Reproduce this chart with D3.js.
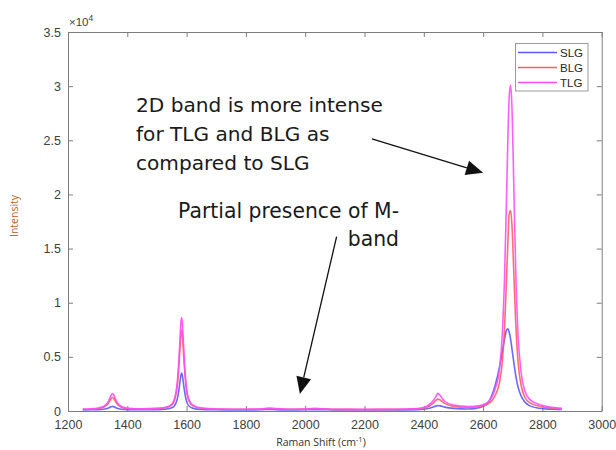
<!DOCTYPE html>
<html><head><meta charset="utf-8">
<script src="https://cdn.jsdelivr.net/npm/d3@7/dist/d3.min.js"></script>
<style>body{margin:0;background:#fff}</style>
</head><body><svg id="c" width="616" height="450"></svg>
<script>
// ---- data ----
const ramanShift = [1250,1280,1300,1320,1335,1345,1350,1355,1365,1380,1400,1450,1500,1530,1550,1560,1568,1574,1578,1581,1583,1585,1588,1592,1598,1606,1620,1650,1700,1800,1850,1880,1900,1950,2000,2030,2060,2100,2200,2300,2380,2410,2430,2440,2447,2455,2470,2500,2550,2590,2620,2640,2655,2665,2672,2678,2683,2688,2693,2698,2703,2710,2718,2728,2740,2760,2790,2820,2850,2865];
const slg = [100,113,124,160,250,390,430,390,250,160,125,115,130,176,290,520,1045,1930,2770,3330,3500,3380,2850,2010,1085,520,265,140,115,100,115,150,130,100,110,130,120,100,90,95,130,200,350,450,500,470,360,240,190,330,900,2300,4000,5500,6600,7400,7600,7300,6600,5600,4600,3300,2200,1400,850,450,250,170,150,140];
const blg = [160,190,230,345,660,1120,1250,1120,660,345,230,195,220,315,560,1065,2190,4110,5940,7150,7500,7240,6110,4280,2280,1065,500,255,185,155,180,240,205,155,170,215,200,150,145,150,210,350,680,950,1100,1020,700,430,330,420,700,1400,2600,4600,7500,11500,15200,18200,18500,16800,13200,8200,4500,2400,1300,720,440,310,240,225];
const tlg = [170,210,255,410,820,1430,1600,1430,820,410,260,200,240,340,620,1200,2500,4700,6800,8200,8600,8300,7000,4900,2600,1200,560,270,190,160,190,260,220,160,180,230,210,160,150,160,230,450,900,1300,1600,1450,900,550,420,500,900,2000,3800,7200,12000,18500,24500,29000,30100,27500,21500,13000,7000,3600,1900,1000,600,380,280,250];
const seriesNames = ["SLG","BLG","TLG"];
const seriesColors = ["#5a5aff","#ff5e5e","#ff4cff"];
const xTicks = [1200,1400,1600,1800,2000,2200,2400,2600,2800,3000];
const yTicks = [0,5000,10000,15000,20000,25000,30000,35000];
const yTickLabels = ["0","0.5","1","1.5","2","2.5","3","3.5"];
const xLabel = "Raman Shift (cm";
const yLabel = "Intensity";
const note1 = ["2D band is more intense","for TLG and BLG as","compared to SLG"];
const note2 = ["Partial presence of M-","band"];
// arrows in data coordinates [x, y]
const arrow1 = [[2225,25140],[2600,22000]];
const arrow2 = [[2106,16110],[1982,1570]];

// ---- layout ----
const svg = d3.select("#c");
const L = 68, R = 601.7, T = 32, B = 411;
const x = d3.scaleLinear().domain([1200,3000]).range([L,R]);
const y = d3.scaleLinear().domain([0,35000]).range([B,T]);
const axisCol = "#7d7d7d", txtCol = "#404040";
const tickFont = "Liberation Sans, Arial, sans-serif";

svg.append("rect").attr("x",0).attr("y",0).attr("width",616).attr("height",450).attr("fill","#fff");

// axes (MATLAB box style, inward ticks)
const tk = 5;
const gB = svg.append("g").attr("transform",`translate(0,${B})`)
  .call(d3.axisBottom(x).tickValues(xTicks).tickSizeInner(-tk).tickSizeOuter(0).tickPadding(9)
    .tickFormat(d3.format("d")));
const gT = svg.append("g").attr("transform",`translate(0,${T})`)
  .call(d3.axisTop(x).tickValues(xTicks).tickSizeInner(-tk).tickSizeOuter(0).tickFormat(""));
const gL = svg.append("g").attr("transform",`translate(${L},0)`)
  .call(d3.axisLeft(y).tickValues(yTicks).tickSizeInner(-tk).tickSizeOuter(0).tickPadding(7)
    .tickFormat((d,i)=>yTickLabels[i]));
const gR = svg.append("g").attr("transform",`translate(${R},0)`)
  .call(d3.axisRight(y).tickValues(yTicks).tickSizeInner(-tk).tickSizeOuter(0).tickFormat(""));
[gB,gT,gL,gR].forEach(g=>{
  g.select(".domain").attr("stroke",axisCol).attr("stroke-width",1);
  g.selectAll(".tick line").attr("stroke",axisCol);
  g.selectAll(".tick text").attr("fill",txtCol).attr("font-family",tickFont).attr("font-size",12.5);
});
gB.selectAll(".tick text").attr("dy","0.71em");

// x10^4 multiplier
const mt = svg.append("text").attr("x",L+1).attr("y",26).attr("fill",txtCol)
  .attr("font-family",tickFont).attr("font-size",11.5);
mt.append("tspan").text("\u00d710");
mt.append("tspan").attr("font-size",8.5).attr("dy",-5).text("4");

// axis labels
const xl = svg.append("text").attr("x",321).attr("y",446).attr("text-anchor","middle")
  .attr("fill","#333").attr("font-family","Open Sans, sans-serif").attr("font-size",10.5);
xl.append("tspan").text(xLabel);
xl.append("tspan").attr("font-size",7.5).attr("dy",-4).text("-1");
xl.append("tspan").attr("dy",4).text(")");
svg.append("text").attr("transform",`translate(18,216) rotate(-90)`).attr("text-anchor","middle")
  .attr("fill","#b5622a").attr("font-family","Open Sans, sans-serif").attr("font-size",10.5).text(yLabel);

// lines
const data = [slg,blg,tlg];
const line = d3.line().x((d,i)=>x(ramanShift[i])).y(d=>y(d)).curve(d3.curveMonotoneX);
svg.append("g").selectAll("path").data(data).join("path")
  .attr("d",d=>line(d)).attr("fill","none")
  .attr("stroke",(d,i)=>seriesColors[i]).attr("stroke-width",1.6).attr("stroke-opacity",0.9)
  .attr("stroke-linejoin","round");

// legend
const lg = svg.append("g");
lg.append("rect").attr("x",515.5).attr("y",43.5).attr("width",72.5).attr("height",47.5)
  .attr("fill","#fff").attr("stroke","#9a9a9a").attr("stroke-width",1);
seriesNames.forEach((n,i)=>{
  const yy = 52.5 + i*15;
  lg.append("line").attr("x1",518).attr("x2",557).attr("y1",yy).attr("y2",yy)
    .attr("stroke",seriesColors[i]).attr("stroke-width",1.6);
  lg.append("text").attr("x",560).attr("y",yy).attr("dy","0.36em").attr("fill","#262626")
    .attr("font-family",tickFont).attr("font-size",11.5).text(n);
});

// annotations
const annFont = "DejaVu Sans, sans-serif";
function fitLines(lines, targetW, xPos, y0, dy, anchor){
  const g = svg.append("g");
  const ts = lines.map((s,i)=>g.append("text").attr("x",xPos).attr("y",y0+i*dy)
    .attr("text-anchor",anchor).attr("fill","#1a1a1a").attr("font-family",annFont)
    .attr("font-size",20).text(s));
  const w = ts[0].node().getComputedTextLength();
  const fs = 20*targetW/w;
  ts.forEach(t=>t.attr("font-size",fs));
}
fitLines(note1, 247, 136, 111.5, 29, "start");
fitLines(note2, 221, 399, 218, 27.5, "end");

function arrow(a){
  const p0=[x(a[0][0]),y(a[0][1])], p1=[x(a[1][0]),y(a[1][1])];
  const dx=p1[0]-p0[0], dy=p1[1]-p0[1], len=Math.hypot(dx,dy);
  const ux=dx/len, uy=dy/len, hl=17, hw=7.5;
  const bx=p1[0]-ux*hl, by=p1[1]-uy*hl;
  svg.append("line").attr("x1",p0[0]).attr("y1",p0[1]).attr("x2",bx).attr("y2",by)
    .attr("stroke","#111").attr("stroke-width",1.3);
  svg.append("path").attr("d",`M${p1[0]},${p1[1]}L${bx-uy*hw},${by+ux*hw}L${bx+uy*hw},${by-ux*hw}Z`)
    .attr("fill","#111");
}
arrow(arrow1); arrow(arrow2);
</script></body></html>
